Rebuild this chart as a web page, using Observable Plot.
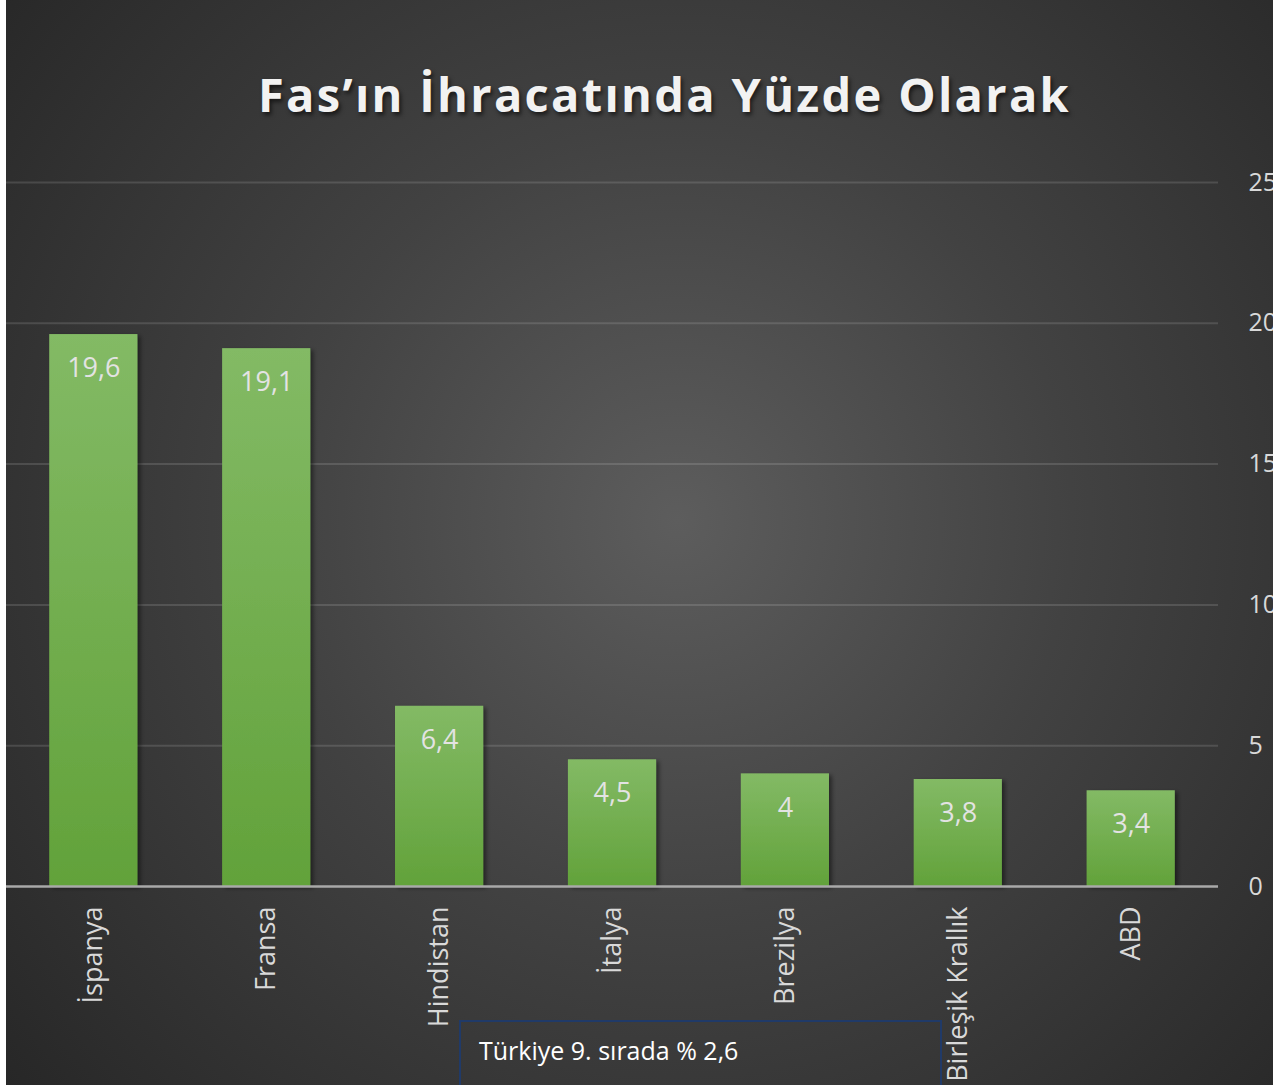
<!DOCTYPE html>
<html>
<head>
<meta charset="utf-8">
<script src="https://cdn.jsdelivr.net/npm/d3@7"></script>
<script src="https://cdn.jsdelivr.net/npm/@observablehq/plot@0.6"></script>
<style>
  html, body { margin: 0; padding: 0; background: #ffffff; }
  #wrap {
    position: absolute; left: 6px; top: 0; width: 1267px; height: 1085px; overflow: hidden;
    background: radial-gradient(circle farthest-corner at 53% 48%, #5d5d5d 0%, #424242 45%, #272727 100%);
    font-family: "Open Sans", sans-serif;
  }
  #title {
    height: 160px; box-sizing: border-box; padding-top: 71px; padding-left: 50px;
    text-align: center; font-weight: 700; font-size: 47px; line-height: 47px;
    color: #f2f2f2; letter-spacing: 2.3px;
    text-shadow: 2px 3px 4px rgba(0,0,0,0.6);
  }
  #note {
    position: absolute; left: 453px; top: 1020px; width: 483px; height: 80px;
    border: 2px solid #203a68; box-sizing: border-box;
    color: #ffffff; font-size: 25px; padding-left: 18px; padding-top: 11px;
  }
</style>
</head>
<body>
<div id="wrap">
  <div id="title">Fas’ın İhracatında Yüzde Olarak</div>
  <div id="chart"></div>
  <div id="note">Türkiye 9. sırada % 2,6</div>
</div>
<script>
const countries = ["İspanya", "Fransa", "Hindistan", "İtalya", "Brezilya", "Birleşik Krallık", "ABD"];
const shares = [19.6, 19.1, 6.4, 4.5, 4, 3.8, 3.4];
const yTicks = [0, 5, 10, 15, 20, 25];

const data = countries.map((c, i) => ({country: c, value: shares[i]}));
const fmt = v => String(v).replace(".", ",");

const chart = Plot.plot({
  width: 1267,
  height: 925,
  marginTop: 22,
  marginBottom: 199,
  marginLeft: 0,
  marginRight: 55,
  style: {background: "transparent", fontFamily: "Open Sans, sans-serif", overflow: "visible"},
  x: {domain: countries, paddingInner: 0.49, paddingOuter: 0.25, round: false, label: null},
  y: {domain: [0, 25], label: null},
  marks: [
    Plot.ruleY(yTicks.filter(t => t > 0), {stroke: "rgba(255,255,255,0.13)", strokeWidth: 2}),
    Plot.barY(data, {x: "country", y: "value", fill: "url(#barGrad)", className: "bars"}),
    Plot.ruleY([0], {stroke: "#a9a9a9", strokeWidth: 2.5}),
    Plot.text(data, {x: "country", y: "value", text: d => fmt(d.value), dy: 34, fontSize: 27, fill: "#e3e3e3"}),
    Plot.axisY({anchor: "right", ticks: yTicks, tickSize: 0, tickPadding: 30, textAnchor: "start", fontSize: 25, fill: "#d9d9d9", label: null}),
    Plot.axisX({anchor: "bottom", tickSize: 0, tickRotate: -90, tickPadding: 20, fontSize: 27, fill: "#d9d9d9", label: null})
  ]
});

const ns = "http://www.w3.org/2000/svg";
const defs = document.createElementNS(ns, "defs");
defs.innerHTML = `
  <linearGradient id="barGrad" x1="0" y1="0" x2="0" y2="1">
    <stop offset="0" stop-color="#83ba65"/>
    <stop offset="1" stop-color="#62a23a"/>
  </linearGradient>
  <filter id="barShadow" x="-10%" y="-10%" width="130%" height="130%">
    <feDropShadow dx="3" dy="2" stdDeviation="2" flood-color="#000" flood-opacity="0.45"/>
  </filter>`;
chart.insertBefore(defs, chart.firstChild);
chart.querySelectorAll("g.bars rect").forEach(r => r.setAttribute("filter", "url(#barShadow)"));
document.getElementById("chart").appendChild(chart);
</script>
</body>
</html>
